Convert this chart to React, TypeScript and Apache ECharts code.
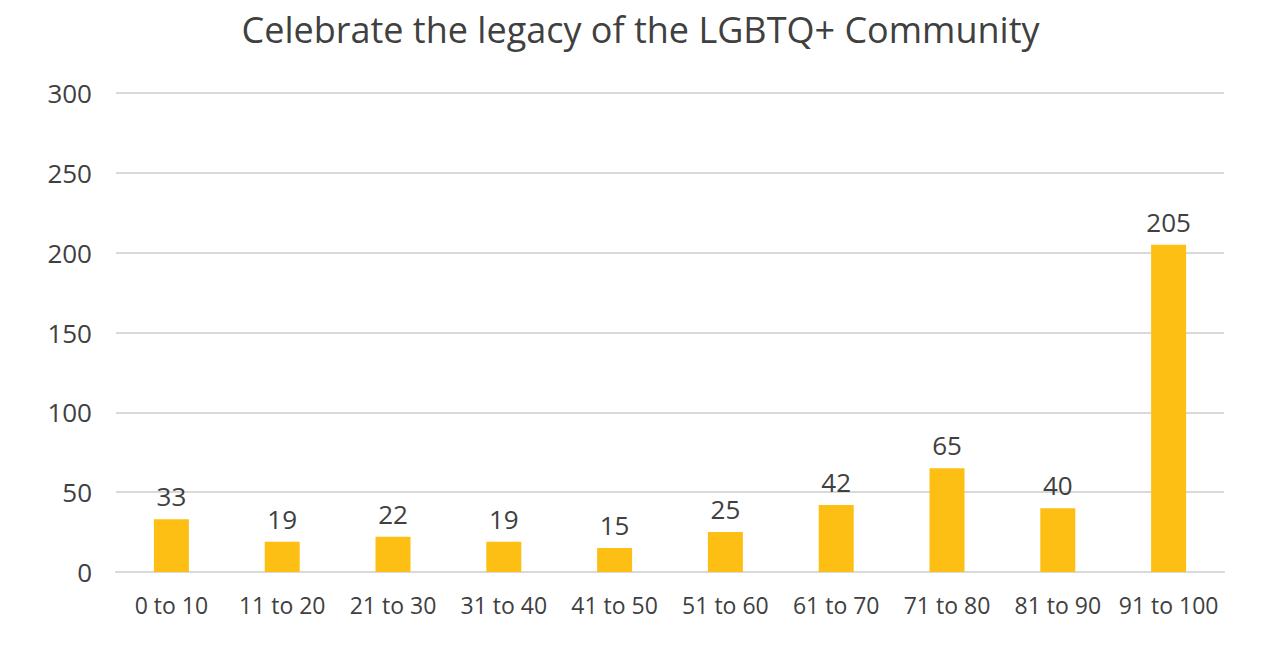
import React, { useEffect, useRef } from "react";
import * as echarts from "echarts";

const categories = ["0 to 10", "11 to 20", "21 to 30", "31 to 40", "41 to 50", "51 to 60", "61 to 70", "71 to 80", "81 to 90", "91 to 100"];
const values = [33, 19, 22, 19, 15, 25, 42, 65, 40, 205];
const titleText = "Celebrate the legacy of the LGBTQ+ Community";
const FONT = "'Open Sans', 'Noto Sans', sans-serif";

export default function App() {
  const ref = useRef<HTMLDivElement>(null);
  useEffect(() => {
    const chart = echarts.init(ref.current!, null, { renderer: "svg" });
    chart.setOption({
      animation: false,
      backgroundColor: "#ffffff",
      title: {
        text: titleText,
        left: "center",
        top: 6,
        textStyle: { fontFamily: FONT, fontSize: 36, fontWeight: "normal", color: "#404040" },
      },
      grid: { left: 116, right: 57, top: 93, bottom: 96, containLabel: false },
      xAxis: {
        type: "category",
        data: categories,
        axisTick: { show: false },
        axisLine: { lineStyle: { color: "#d9d9d9", width: 2 } },
        axisLabel: { fontFamily: FONT, fontSize: 23, color: "#404040", margin: 21, interval: 0 },
      },
      yAxis: {
        type: "value",
        min: 0,
        max: 300,
        interval: 50,
        axisLine: { show: false },
        axisTick: { show: false },
        splitLine: { lineStyle: { color: "#d9d9d9", width: 2 } },
        axisLabel: { fontFamily: FONT, fontSize: 26, color: "#404040", margin: 24 },
      },
      series: [
        {
          type: "bar",
          data: values,
          barWidth: 35,
          itemStyle: { color: "#FDBF13" },
          label: {
            show: true,
            position: "top",
            distance: 10,
            fontFamily: FONT,
            fontSize: 26,
            color: "#404040",
          },
        },
      ],
    });
    return () => chart.dispose();
  }, []);
  return <div ref={ref} style={{ position: "fixed", left: 0, top: 0, width: 1281, height: 668 }} />;
}
